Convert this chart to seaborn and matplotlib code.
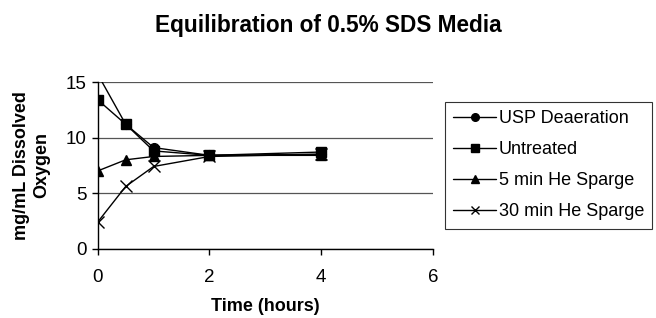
import matplotlib
matplotlib.use("Agg")
import matplotlib.pyplot as plt
import seaborn as sns
import pandas as pd

time_h = [0, 0.5, 1, 2, 4]
usp_deaeration = [15.7, 11.2, 9.1, 8.4, 8.5]
untreated = [13.4, 11.2, 8.8, 8.4, 8.7]
he_5min = [7.0, 8.0, 8.3, 8.4, 8.4]
he_30min = [2.4, 5.6, 7.4, 8.3, 8.5]
series_names = ["USP Deaeration", "Untreated", "5 min He Sparge", "30 min He Sparge"]
series_values = [usp_deaeration, untreated, he_5min, he_30min]
series_markers = ["o", "s", "^", "x"]
x_ticks = [0, 2, 4, 6]
y_ticks = [0, 5, 10, 15]

sns.set_theme(style="white")
plt.rcParams["font.family"] = ["Liberation Sans", "DejaVu Sans"]
plt.rcParams["text.color"] = "black"
plt.rcParams["axes.labelcolor"] = "black"

fig = plt.figure(figsize=(6.56, 3.18), dpi=100)
ax = fig.add_axes([0.149, 0.218, 0.511, 0.524])

rows = []
for name, vals in zip(series_names, series_values):
    for t, v in zip(time_h, vals):
        rows.append({"Time": t, "Value": v, "Series": name})
df = pd.DataFrame(rows)

for name, mk in zip(series_names, series_markers):
    sub = df[df["Series"] == name]
    sns.lineplot(data=sub, x="Time", y="Value", ax=ax, color="black",
                 marker=mk, markersize=7 if mk != "x" else 9,
                 markeredgecolor="black", markerfacecolor="black",
                 markeredgewidth=1.0, linewidth=1.0, label=name,
                 errorbar=None)

ax.set_xlim(0, 6)
ax.set_ylim(0, 15)
ax.set_xticks(x_ticks)
ax.set_yticks(y_ticks)
ax.yaxis.grid(True, color="#555555", linewidth=0.9)
ax.xaxis.grid(False)
for s in ["top", "right"]:
    ax.spines[s].set_visible(False)
for s in ["left", "bottom"]:
    ax.spines[s].set_color("black")
    ax.spines[s].set_linewidth(1.0)
ax.tick_params(axis="both", which="major", labelsize=13.5, colors="black",
               direction="out", length=4, width=1, bottom=True, left=True)
ax.tick_params(axis="x", pad=10.5)
ax.tick_params(axis="y", pad=4)
ax.set_xlabel("Time (hours)", fontsize=13, fontweight="bold", labelpad=9)
ax.set_ylabel("mg/mL Dissolved\nOxygen", fontsize=13, fontweight="bold",
              labelpad=11, linespacing=1.3, multialignment="center")

fig.suptitle("Equilibration of 0.5% SDS Media", x=0.5, y=0.955,
             fontsize=16.3, fontweight="bold")

leg = ax.legend(loc="upper left", bbox_to_anchor=(0.678, 0.679),
                bbox_transform=fig.transFigure, frameon=True, fancybox=False,
                edgecolor="black", fontsize=13, handlelength=2.4,
                labelspacing=0.78, borderpad=0.45, handletextpad=0.15,
                borderaxespad=0)
leg.get_frame().set_linewidth(0.8)
for h in leg.legend_handles:
    h.set_markersize(5.5)

fig.savefig("out.png", dpi=100)
